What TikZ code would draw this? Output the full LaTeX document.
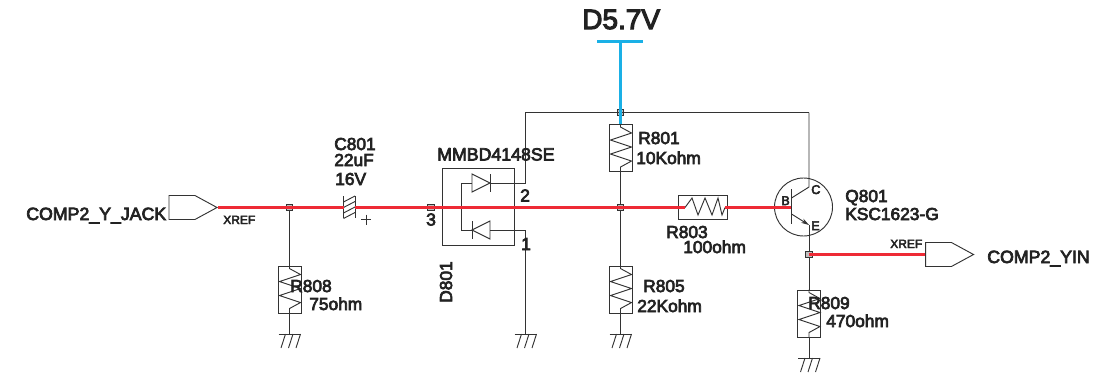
\documentclass[tikz,border=0pt]{standalone}
\usepackage{fontspec}
\setmainfont[FakeBold=4]{Liberation Sans}
\usetikzlibrary{arrows.meta,shapes.symbols}

\definecolor{wirered}{HTML}{EE2A35}
\definecolor{wireblue}{HTML}{1AB0E6}
\definecolor{inkdark}{HTML}{333333}
\definecolor{textdark}{HTML}{222222}

\tikzset{
    wire/.style={draw=inkdark,line width=0.7pt},
    redwire/.style={draw=wirered,line width=1.7pt},
    bluewire/.style={draw=wireblue,line width=1.7pt},
    junction/.style={draw=inkdark,fill=black!25,line width=0.6pt,inner sep=0pt,minimum size=5pt},
    resbox/.style={draw=inkdark,line width=0.7pt,inner sep=0pt,minimum width=17.25pt,minimum height=35.25pt},
    port/.style={draw=inkdark,line width=0.7pt,signal,signal to=east,signal pointer angle=57,
        anchor=east,inner sep=0pt,minimum width=36pt,minimum height=18pt},
    lbl/.style={anchor=base west,inner sep=0pt,text=textdark,font=\fontsize{13}{13}\selectfont},
    biglbl/.style={lbl,font=\fontsize{13.3}{13.3}\selectfont},
    xreflbl/.style={lbl,font=\fontsize{9}{9}\selectfont},
    pinlbl/.style={lbl,font=\fontsize{9.5}{9.5}\selectfont},
    gnd/.pic={
        \coordinate (-top) at (0,0);
        \draw[wire] (-11,0) -- (11,0);
        \foreach \t in {-4,3.5,11} \draw[wire] (\t,0) -- ++(-4.5,14);
    }
}

\begin{document}
\begin{tikzpicture}[x=0.75pt,y=-0.75pt]
    \useasboundingbox (0,0) rectangle (1112,375);

    %%% Junctions and ports %%%
    \node[junction] (j808) at (289.5,207.5) {};
    \node[junction] (j3) at (431,207.5) {};
    \node[junction] (jmid) at (620.5,207.5) {};
    \node[junction] (jtop) at (620.5,112.5) {};
    \node[junction] (jout) at (809,254.5) {};
    \node[port] (jack) at (218,207.5) {};
    \node[port] (yin) at (974.5,254.5) {};

    %%% Resistors %%%
    \foreach \name/\x/\y in {r808/289.5/289.5,r801/620.5/148,r805/620.5/289.5,r809/809/313.5} {
        \node[resbox] (\name) at (\x,\y) {};
        \draw[wire] (\name.north) -- ++(0,3) -- ++(11,6) -- ++(-21,7) -- ++(21,7)
            -- ++(-21,7) -- ++(21,7) -- ++(-11,6) -- (\name.south);
    }
    \node[resbox,minimum width=36.75pt,minimum height=18pt] (r803) at (702.5,207) {};
    \draw[wire] (685,207.5) -- (692,198) -- (698,215) -- (705,198) -- (712,215) -- (718,198) -- (722,215) -- (725,207.5);

    %%% Grounds %%%
    \pic (g808) at (289.5,334) {gnd};
    \pic (g525) at (525.5,334) {gnd};
    \pic (g805) at (620.5,334) {gnd};
    \pic (g809) at (809,358) {gnd};

    %%% Diode pair %%%
    \node[draw=inkdark,line width=0.7pt,inner sep=0pt,minimum width=54pt,minimum height=57.75pt] (d801) at (478,206.5) {};
    \coordinate (d1a) at (472,183);
    \coordinate (d1k) at (490,183);
    \coordinate (d2k) at (472,230);
    \coordinate (d2a) at (490,230);
    \coordinate (lcorner) at (461,183);
    \coordinate (lcornerb) at (461,230);
    \coordinate (pin2) at (525.5,183);
    \coordinate (pin1) at (525.5,230);
    \coordinate (railleft) at (525.5,112.5);
    \coordinate (railright) at (809,112.5);
    \draw[wire] (d1a) -- (lcorner) -- (lcornerb) -- (d2k);
    \draw[wire] (472,174) -- (d1k) -- (472,192) -- cycle;
    \draw[wire] (490,174) -- (490,192);
    \draw[wire] (490,221) -- (d2k) -- (490,239) -- cycle;
    \draw[wire] (472,221) -- (472,239);
    \draw[wire] (d1k) -- (pin2) -- (railleft) -- (railright);
    \draw[wire] (d2a) -- (pin1) -- (g525-top);

    %%% Transistor %%%
    \node[circle,draw=inkdark,line width=0.7pt,inner sep=0pt,minimum size=43.5pt] (q801) at (803.5,207) {};
    \coordinate (qc) at (809,187);
    \coordinate (qe) at (809,225);
    \draw[wire] (791,189) -- (791,224);
    \draw[wire] (railright) -- (qc) -- (791.5,198);
    \draw[wire,-{Stealth[length=6pt,width=3.5pt]}] (791.5,214) -- (qe);
    \draw[wire] (qe) -- (jout) -- (r809);

    %%% Vertical wires %%%
    \draw[wire] (jmid) -- (r801);
    \draw[wire] (jmid) -- (r805);
    \draw[wire] (r805) -- (g805-top);
    \draw[wire] (j808) -- (r808);
    \draw[wire] (r808) -- (g808-top);
    \draw[wire] (r809) -- (g809-top);

    %%% Capacitor %%%
    \coordinate (c801a) at (343.5,207.5);
    \coordinate (c801b) at (355,207.5);
    \draw[wire] (343.5,196) -- (343.5,218);
    \draw[wire] (355,196) -- (355,218);
    \foreach \y in {199,204.5,210,215.5} \draw[wire] (343.5,\y+3) -- (355,\y-3);
    \draw[wire] (361,219.5) -- (371,219.5);
    \draw[wire] (366,214.5) -- (366,224.5);

    %%% Coloured nets %%%
    \draw[redwire] (jack.east) -- (c801a);
    \draw[redwire] (c801b) -- (685,207.5);
    \draw[redwire] (725,207.5) -- (791,207.5);
    \draw[redwire] (jout.center) -- (yin.west);
    \coordinate (vccl) at (597,41.5);
    \coordinate (vccr) at (643,41.5);
    \coordinate (vcc) at (620.5,41.5);
    \draw[bluewire] (vccl) -- (vccr);
    \draw[bluewire] (vcc) -- (r801.north);

    %%% Labels %%%
    \node[lbl,font=\fontsize{21}{21}\selectfont] (vcclbl) at (582,29) {D5.7V};
    \node[biglbl] (jacklbl) at (26,220) {COMP2\_Y\_JACK};
    \node[biglbl] (yinlbl) at (987,263) {COMP2\_YIN};
    \node[xreflbl] (xrefa) at (223,224) {XREF};
    \node[xreflbl] (xrefb) at (890,248) {XREF};
    \node[lbl] (c801lbl) at (334,150) {C801};
    \node[lbl] (c801val) at (334,166) {22uF};
    \node[lbl] (c801volt) at (335,185) {16V};
    \node[biglbl] (d801part) at (437,160.5) {MMBD4148SE};
    \node[lbl] (pintwo) at (520,201.5) {2};
    \node[lbl] (pinthree) at (426,225.5) {3};
    \node[lbl] (pinone) at (521,250) {1};
    \node[lbl,rotate=90] (d801lbl) at (452,303) {D801};
    \node[lbl] (r808lbl) at (290,292) {R808};
    \node[lbl] (r808val) at (309,310) {75ohm};
    \node[lbl] (r801lbl) at (638,144) {R801};
    \node[lbl] (r801val) at (636,164) {10Kohm};
    \node[lbl] (r803lbl) at (666,238) {R803};
    \node[lbl] (r803val) at (683,253) {100ohm};
    \node[lbl] (r805lbl) at (643,292) {R805};
    \node[lbl] (r805val) at (637,312) {22Kohm};
    \node[lbl] (r809lbl) at (808,309) {R809};
    \node[lbl] (r809val) at (826,327) {470ohm};
    \node[lbl] (q801lbl) at (845,202) {Q801};
    \node[lbl] (q801val) at (845,220) {KSC1623-G};
    \node[pinlbl] (pinc) at (811,194) {C};
    \node[pinlbl] (pinb) at (781,205) {B};
    \node[pinlbl] (pine) at (811,230) {E};

\end{tikzpicture}
\end{document}
